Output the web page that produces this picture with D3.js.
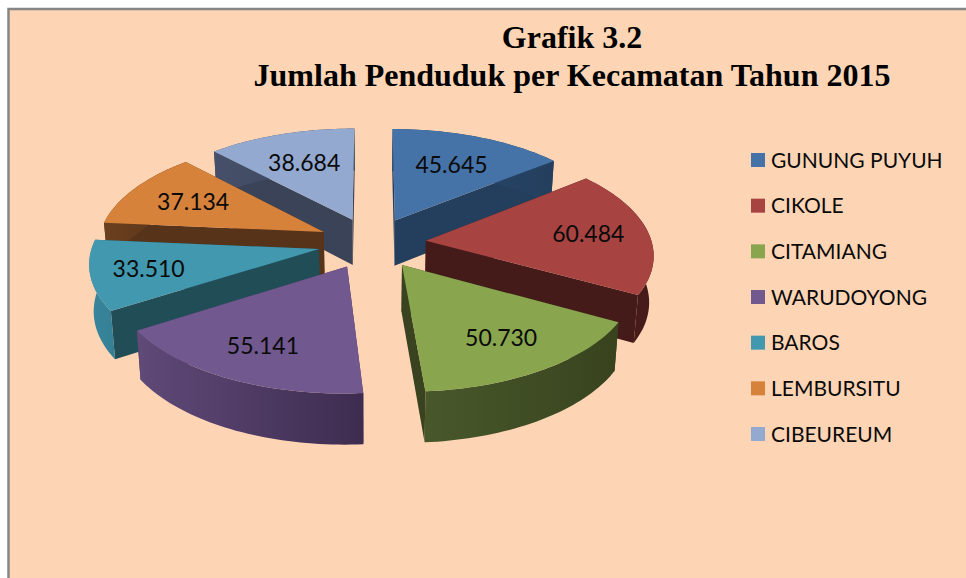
<!DOCTYPE html>
<html>
<head>
<meta charset="utf-8">
<script src="https://cdn.jsdelivr.net/npm/d3@7"></script>
<style>
  html, body { margin: 0; padding: 0; background: #fff; }
  svg { display: block; }
</style>
</head>
<body>
<div id="chart"></div>
<script>
var titleLines = ['Grafik 3.2', 'Jumlah Penduduk per Kecamatan Tahun 2015'];
var categories = ['GUNUNG PUYUH', 'CIKOLE', 'CITAMIANG', 'WARUDOYONG', 'BAROS', 'LEMBURSITU', 'CIBEUREUM'];
var values = [45645, 60484, 50730, 55141, 33510, 37134, 38684];
var valueLabels = ['45.645', '60.484', '50.730', '55.141', '33.510', '37.134', '38.684'];

// colours: top face, cut faces, outer wall (left and right end of the gradient)
var topColors = ['#4573a7', '#a74442', '#89a54e', '#71588f', '#4198af', '#d7823b', '#93a9cf'];
var cutColors = ['#243f5e', '#451b1a', '#39431f', '#4a3960', '#214d57', '#57331a', '#3b4358'];
var outerLeft = ['#2a4a6e', '#4a1c1b', '#48582b', '#5f4a78', '#38879d', '#6b3f1e', '#46506a'];
var outerRight = ['#243f5e', '#451b1a', '#38431e', '#3e2c50', '#357f94', '#57331a', '#3b4358'];

// how far along its radius each label sits
var labelRadius = [0.65, 0.73, 0.72, 0.73, 0.75, 0.68, 0.65];

var width = 966, height = 578;

// perspective set up, unit pie on the ground plane
var cx = 372, cy = 243, rx = 226, ry = 106.7;
var persp = 0.1146, explode = 0.24, thick = 46;

var svg = d3.select('#chart').append('svg')
    .attr('width', width)
    .attr('height', height);

svg.append('rect')
    .attr('x', 8.5).attr('y', 9)
    .attr('width', width + 10).attr('height', height + 10)
    .attr('fill', '#fdd5b5')
    .attr('stroke', '#868686')
    .attr('stroke-width', 2.5);

var defs = svg.append('defs');

function project(gx, gy, down) {
  var s = 1 / (1 - persp * gy);
  return [
    cx + rx * gx * s * (1 - 0.016 * down),
    cy + ry * gy * s + down * thick * Math.pow(s, 0.7)
  ];
}

var pie = d3.pie().sort(null).startAngle(0).endAngle(2 * Math.PI);
var line = d3.line();

var slices = pie(values).map(function(d, i) {
  var mid = (d.startAngle + d.endAngle) / 2;
  return {
    i: i,
    start: d.startAngle,
    end: d.endAngle,
    mid: mid,
    ox: explode * Math.sin(mid),
    oy: -explode * Math.cos(mid)
  };
});

function ground(s, a, r) {
  return [s.ox + r * Math.sin(a), s.oy - r * Math.cos(a)];
}

function rimPoints(s, down) {
  var n = Math.ceil((s.end - s.start) * 40);
  return d3.range(n + 1).map(function(k) {
    var g = ground(s, s.start + (s.end - s.start) * k / n, 1);
    return project(g[0], g[1], down);
  });
}

function cutFace(s, a) {
  var g = ground(s, a, 1);
  return line([
    project(s.ox, s.oy, 0), project(g[0], g[1], 0),
    project(g[0], g[1], 1), project(s.ox, s.oy, 1)
  ]) + 'Z';
}

slices.forEach(function(s) {
  var grad = defs.append('linearGradient').attr('id', 'outer' + s.i);
  grad.append('stop').attr('offset', '0%').attr('stop-color', outerLeft[s.i]);
  grad.append('stop').attr('offset', '100%').attr('stop-color', outerRight[s.i]);
});

// back to front, nearer slices paint over the ones behind
var order = slices.slice().sort(function(a, b) { return d3.ascending(a.oy, b.oy); });

var groups = svg.selectAll('g.slice')
    .data(order)
  .enter().append('g')
    .attr('class', 'slice');

groups.append('path')
    .attr('d', function(d) { return cutFace(d, d.start); })
    .attr('fill', function(d) { return cutColors[d.i]; });

groups.append('path')
    .attr('d', function(d) { return cutFace(d, d.end); })
    .attr('fill', function(d) { return cutColors[d.i]; });

groups.append('path')
    .attr('d', function(d) {
      return line(rimPoints(d, 0).concat(rimPoints(d, 1).reverse())) + 'Z';
    })
    .attr('fill', function(d) { return 'url(#outer' + d.i + ')'; });

groups.append('path')
    .attr('d', function(d) {
      return line([project(d.ox, d.oy, 0)].concat(rimPoints(d, 0))) + 'Z';
    })
    .attr('fill', function(d) { return topColors[d.i]; });

// value labels
svg.selectAll('text.value')
    .data(slices)
  .enter().append('text')
    .attr('class', 'value')
    .attr('transform', function(d) {
      var g = ground(d, d.mid, labelRadius[d.i]);
      return 'translate(' + project(g[0], g[1], 0) + ')';
    })
    .attr('dy', '.36em')
    .attr('text-anchor', 'middle')
    .style('font-family', 'Lato, sans-serif')
    .style('font-size', '23px')
    .attr('fill', '#0a0a0a')
    .text(function(d) { return valueLabels[d.i]; });

// title
svg.selectAll('text.title')
    .data(titleLines)
  .enter().append('text')
    .attr('class', 'title')
    .attr('x', 572)
    .attr('y', function(d, i) { return 48 + i * 38; })
    .attr('text-anchor', 'middle')
    .style('font-family', '"Liberation Serif", serif')
    .style('font-weight', 'bold')
    .style('font-size', '32px')
    .attr('fill', '#000')
    .text(function(d) { return d; });

// legend
var legendY = d3.scalePoint().domain(categories).range([160, 434]);

var legend = svg.selectAll('g.legend')
    .data(categories)
  .enter().append('g')
    .attr('class', 'legend')
    .attr('transform', function(d) { return 'translate(751,' + legendY(d) + ')'; });

legend.append('rect')
    .attr('y', -7)
    .attr('width', 14)
    .attr('height', 14)
    .attr('fill', function(d, i) { return topColors[i]; });

legend.append('text')
    .attr('x', 20)
    .attr('dy', '.36em')
    .style('font-family', 'Lato, sans-serif')
    .style('font-size', '21px')
    .attr('fill', '#0a0a0a')
    .text(function(d) { return d; });
</script>
</body>
</html>
